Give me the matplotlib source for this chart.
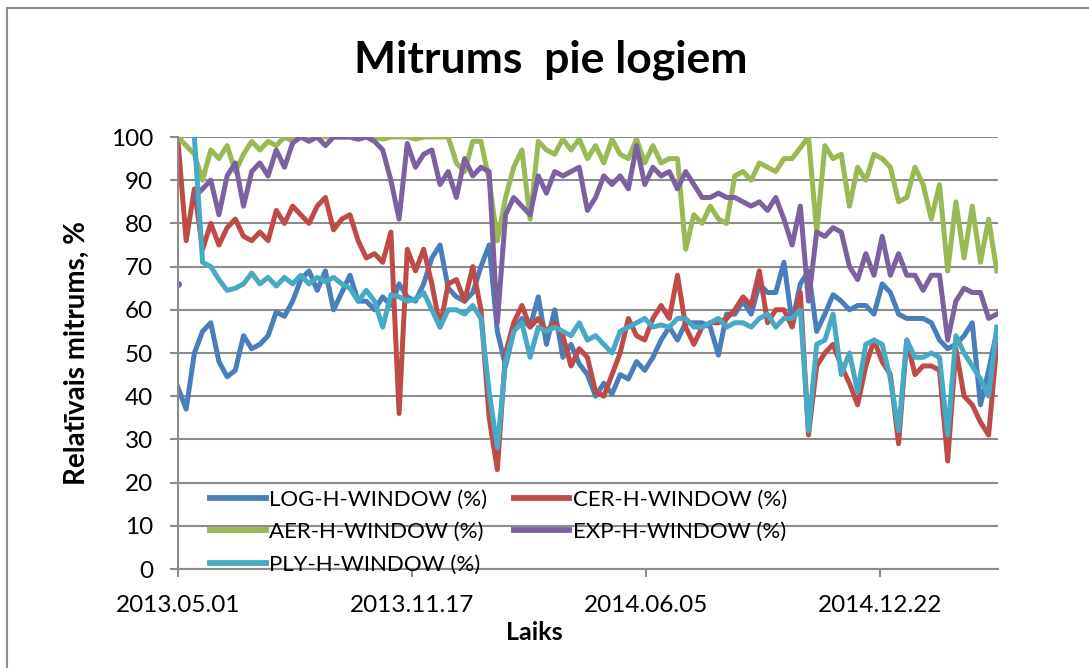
import numpy as np
import pandas as pd
import matplotlib
matplotlib.use('Agg')
import matplotlib.pyplot as plt
import matplotlib.dates as mdates
from matplotlib.patches import Rectangle

plt.rcParams['font.family'] = ['Lato', 'DejaVu Sans']

# weekly readings, starting 2013.05.01
start_date = '2013-05-01'
n_weeks = 101

log_h = [42, 37, 50, 55, 57, 48, 44.5, 46, 54, 51, 52, 54, 59.5, 58.5, 62, 67, 69, 64.5, 69, 60,
         64, 68, 62, 62, 60, 63, 61, 66, 63, 62, 66, 72, 75, 65, 63, 62, 64, 70, 75, 55,
         47, 55, 58, 56, 63, 52, 60, 49, 52, 47.5, 45, 40, 43, 40.5, 45, 44, 48, 46, 49, 53,
         56, 53, 57, 57, 57, 56, 49.5, 59, 59, 62, 59, 66, 64, 64, 71, 57, 66, 69, 55, 59,
         63.5, 62, 60, 61, 61, 59, 66, 64, 59, 58, 58, 58, 57, 53, 51, 52, 54, 57, 38, 46,
         55]
cer_h = [99, 76, 88, 74, 80, 75, 79, 81, 77, 76, 78, 76, 83, 80, 84, 82, 80, 84, 86, 78.5,
         81, 82, 76, 72, 73, 71, 78, 36, 74, 69, 74, 66, 56, 66, 67, 62, 70, 60, 35, 23,
         50, 57, 61, 56, 58, 55, 57, 54, 47, 51, 49, 41, 40, 45, 50, 58, 54, 53, 58, 61,
         58, 68, 56, 52, 56, 57, 57, 58, 60, 63, 61, 69, 57, 60, 60, 56, 64, 31, 47, 50,
         52, 47, 43, 38, 47, 53, 48, 45, 29, 53, 45, 47, 47, 46, 25, 51, 40, 38, 34, 31,
         52]
aer_h = [100, 98, 96, 90, 97, 95, 98, 92, 96, 99, 97, 99, 98, 100, 99, 100, 100, 100, 100, 100,
         100, 100, 99.5, 100, 100, 99.5, 100, 100, 100, 99.5, 100, 100, 100, 100, 94, 92, 99, 99, 90, 76,
         86, 93, 97, 81, 99, 97, 96, 99.5, 97, 99.5, 95, 98, 94, 99.5, 96, 95, 99.5, 94, 98, 94,
         95, 95, 74, 82, 80, 84, 81, 80, 91, 92, 90, 94, 93, 92, 95, 95, 97.5, 100, 78, 98,
         95, 96, 84, 93, 90, 96, 95, 93, 85, 86, 93, 89, 81, 89, 69, 85, 72, 84, 71, 81,
         69]
exp_h = [66, np.nan, 86, 88, 90, 82, 91, 94, 84, 92, 94, 91, 97, 93, 98.6, 100, 99, 100, 98, 100,
         100, 100, 99.5, 100, 99, 97, 90, 81, 98.5, 93, 96, 97, 89, 92, 86, 95, 91, 93, 92, 57,
         82, 86, 84, 82, 91, 87, 92, 91, 92, 93, 83, 86, 91, 89, 91, 88, 98, 89, 93, 91,
         92, 88, 92, 89, 86, 86, 87, 86, 86, 85, 84, 85, 83, 86, 81, 75, 84, 62, 78, 77,
         79, 78, 70, 67, 73, 68, 77, 68, 73, 68, 68, 64.5, 68, 68, 53, 62, 65, 64, 64, 58,
         59]
ply_h = [np.nan, np.nan, 100, 71, 70, 67, 64.5, 65, 66, 68.5, 66, 67.5, 65.5, 67.5, 66, 68, 66, 67.5, 66.5, 67.5,
         66, 65, 62, 64.5, 62, 56, 63.5, 63, 62, 62.5, 64, 60, 56, 60, 60, 59, 61, 58, 41, 28,
         48, 55, 57, 49, 56, 55, 56, 55, 54, 57, 53, 54, 52, 50, 55, 56, 57, 58, 56, 56.5,
         56, 58, 58, 56, 56, 57, 58, 56, 57, 57, 56, 58, 59, 56, 58, 58, 60, 32, 52, 53,
         59, 45, 50, 41, 52, 53, 52, 44, 32, 53, 49, 49, 50, 49, 31, 54, 50, 47, 44, 40,
         56]

labels = ['LOG-H-WINDOW (%)', 'CER-H-WINDOW (%)', 'AER-H-WINDOW (%)',
          'EXP-H-WINDOW (%)', 'PLY-H-WINDOW (%)']
colors = ['#4A7EBB', '#BE4B48', '#98B954', '#7D60A0', '#46AAC5']
tick_dates = ['2013-05-01', '2013-11-17', '2014-06-05', '2014-12-22']

dates = pd.date_range(start_date, periods=n_weeks, freq='7D')
series = [log_h, cer_h, aer_h, exp_h, ply_h]

fig = plt.figure(figsize=(10.89, 6.68), dpi=100)
fig.patches.append(Rectangle((7 / 1089, -0.05), 1.1, 1 - 8 / 668 + 0.05, transform=fig.transFigure,
                             fill=False, edgecolor='#8c8c8c', lw=1.5))
ax = fig.add_axes([178 / 1089, 99 / 668, 820 / 1089, 432 / 668])

lines = []
for vals, lab, col in zip(series, labels, colors):
    ln, = ax.plot(dates, vals, color=col, lw=3.6, label=lab, solid_joinstyle='round')
    lines.append(ln)
# the lonely first EXP reading
ax.plot(dates[:1], exp_h[:1], 'o', color=colors[3], ms=4)

ax.set_ylim(0, 100)
ax.set_xlim(pd.Timestamp(start_date), pd.Timestamp(start_date) + pd.Timedelta(days=701))
ax.set_yticks(range(0, 101, 10))
ax.set_xticks(pd.to_datetime(tick_dates))
ax.xaxis.set_major_formatter(mdates.DateFormatter('%Y.%m.%d'))
ax.grid(axis='y', color='#8c8c8c', lw=1.5)
ax.set_axisbelow(True)
for side in ['top', 'right']:
    ax.spines[side].set_visible(False)
for side in ['left', 'bottom']:
    ax.spines[side].set_color('#8c8c8c')
    ax.spines[side].set_linewidth(1.5)
ax.tick_params(axis='both', colors='#8c8c8c', labelcolor='black', labelsize=17.5,
               length=6, width=1.5)
ax.tick_params(axis='x', pad=13)
ax.tick_params(axis='y', pad=12)

ax.set_ylabel('Relatīvais mitrums, %', fontsize=20, fontweight='bold')
ax.yaxis.set_label_coords(-0.107, 0.5)
fig.text(534 / 1089, 1 - 632 / 668, 'Laiks', ha='center', va='center', fontsize=18, fontweight='bold')
fig.text(551 / 1089, 1 - 60 / 668, 'Mitrums  pie logiem', ha='center', va='center',
         fontsize=32, fontweight='bold')

order = [0, 2, 4, 1, 3]
leg = ax.legend([lines[i] for i in order], [labels[i] for i in order], ncol=2, frameon=False,
                loc='upper left', bbox_to_anchor=(0.039, 0.183), fontsize=16, handlelength=2.5,
                handletextpad=0.15, columnspacing=1.2, labelspacing=0.55, borderaxespad=0,
                borderpad=0)
for h in leg.legend_handles:
    h.set_linewidth(4.2)

fig.savefig('out.png', dpi=100)
